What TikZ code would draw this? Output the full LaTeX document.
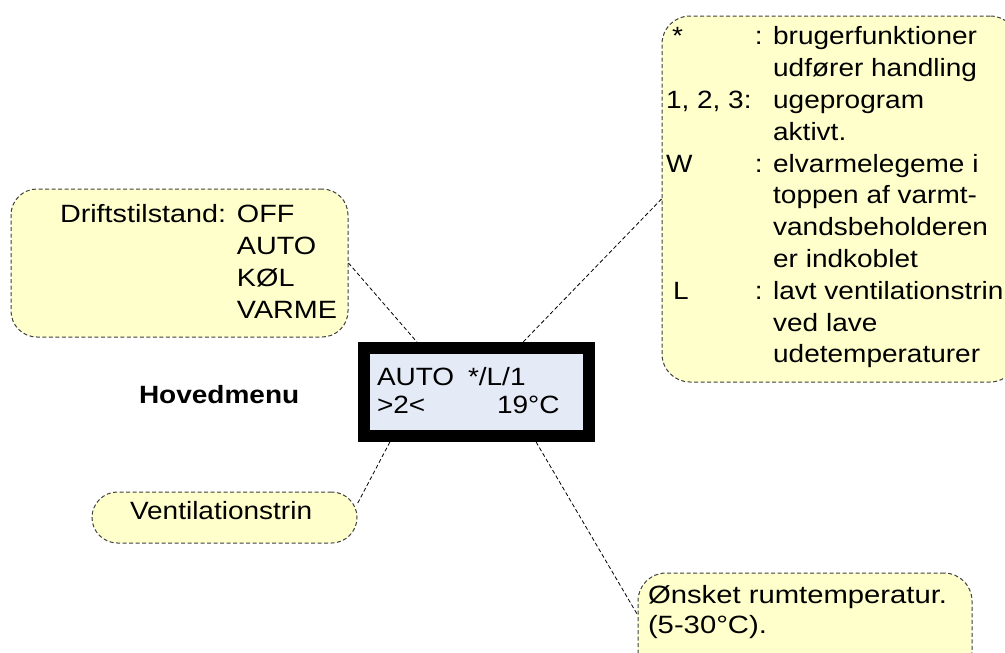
\documentclass[tikz,border=0pt]{standalone}
\usepackage{fontspec}
\setmainfont[FakeStretch=1.12]{Liberation Sans}
\newfontfamily\wideA[FakeStretch=1.15]{Liberation Sans}
\newfontfamily\wideB[FakeStretch=1.17]{Liberation Sans}
\definecolor{notefill}{RGB}{255,255,204}
\definecolor{lcdfill}{RGB}{228,234,246}
\definecolor{notedraw}{RGB}{64,64,64}
\newcommand\infolab[1]{\makebox[89pt][l]{#1}}
\tikzset{
  note/.style={draw=notedraw, dash pattern=on 4pt off 2.5pt, line width=1pt,
    fill=notefill, rounded corners=#1, inner sep=0pt},
  link/.style={draw=black, dash pattern=on 4pt off 2.5pt, line width=0.8pt},
  txt/.style={inner sep=0pt, outer sep=0pt, anchor=base west},
  lcd/.style={draw=black, line width=12pt, fill=lcdfill, inner sep=0pt}
}
\begin{document}
\begin{tikzpicture}[x=1pt,y=-1pt,font=\fontsize{25}{31.8}\selectfont]
\useasboundingbox (0,0) rectangle (1005,653);
% callout boxes
\node[note=28pt, minimum width=356pt, minimum height=366pt] (info) at (840,199) {};
\node[note=26pt, minimum width=337pt, minimum height=148pt] (drift) at (179.5,263) {};
\node[note=25.5pt, minimum width=265pt, minimum height=51pt] (vent) at (224.5,517.5) {};
\node[note=28pt, minimum width=334pt, minimum height=107pt] (onsket) at (805,626.5) {};
% display
\node[lcd, minimum width=225pt, minimum height=88pt] (display) at (476.5,392) {};
% connectors
\draw[link] (drift.east) -- (display.140.9);
\draw[link] (display.47.7) -- (info.west);
\draw[link] (display.210.9) -- (vent.6.7);
\draw[link] (display.320.4) -- (onsket.176.1);
% texts
\node[txt] (infotext) at (666,45) {\begin{tabular}[t]{@{}l@{}l@{}}
\infolab{\hspace{6pt}*} & : brugerfunktioner\\
\infolab{} & \hphantom{: }udfører handling\\
\infolab{1, 2, 3:} & \hphantom{: }ugeprogram\\
\infolab{} & \hphantom{: }aktivt.\\
\infolab{W} & : elvarmelegeme i\\
\infolab{} & \hphantom{: }toppen af varmt-\\
\infolab{} & \hphantom{: }vandsbeholderen\\
\infolab{} & \hphantom{: }er indkoblet\\
\infolab{\hspace{7pt}L} & : lavt ventilationstrin\\
\infolab{} & \hphantom{: }ved lave\\
\infolab{} & \hphantom{: }udetemperaturer
\end{tabular}};
\node[txt] (drifttext) at (60,222) {\wideA\fontsize{25}{32}\selectfont\begin{tabular}[t]{@{}l@{}l@{}}
\makebox[177pt][l]{Driftstilstand:} & OFF\\
 & AUTO\\
 & KØL\\
 & VARME
\end{tabular}};
\node[txt, font=\fontsize{25}{31.8}\selectfont\bfseries] (title) at (139,403) {Hovedmenu};
\node[txt] (d1a) at (377,385) {AUTO};
\node[txt] (d1b) at (468,385) {*/L/1};
\node[txt] (d2a) at (377,413) {>2<};
\node[txt] (d2b) at (497,413) {19°C};
\node[txt] (venttext) at (130,519) {Ventilationstrin};
\node[txt] (onskettext) at (648,603) {\wideB\fontsize{25}{30}\selectfont\begin{tabular}[t]{@{}l@{}}
Ønsket rumtemperatur.\\
(5-30°C).
\end{tabular}};
\end{tikzpicture}
\end{document}
